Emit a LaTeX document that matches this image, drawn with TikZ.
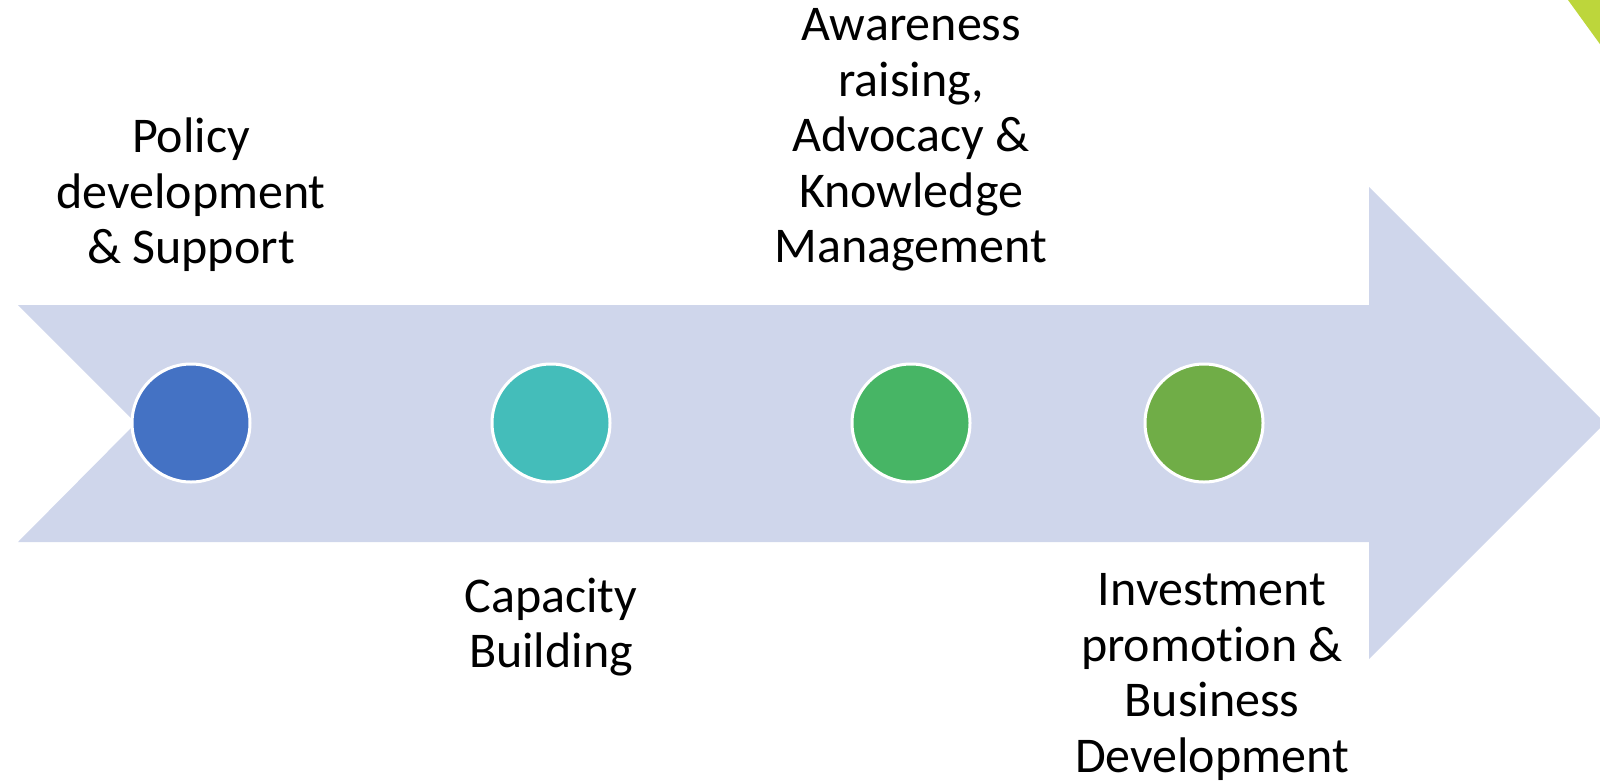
\documentclass[tikz,border=0pt]{standalone}
\usepackage{fontspec}
\setmainfont{Carlito}[Ligatures=CommonOff]
\usepackage{tikz}
\definecolor{arrowfill}{HTML}{CFD6EB}
\definecolor{cblue}{HTML}{4472C4}
\definecolor{cteal}{HTML}{44BDBA}
\definecolor{cgreen}{HTML}{47B565}
\definecolor{colive}{HTML}{70AD47}
\definecolor{lime}{HTML}{BDD63B}

\begin{document}
\begin{tikzpicture}[x=0.5pt,y=-0.5pt,
        dot/.style={circle,draw=white,line width=1.5pt,minimum size=59pt,inner sep=0pt},
        label/.style={align=center,font=\fontsize{25}{27.75}\selectfont}]
        \useasboundingbox (0,0) rectangle (1600,782);
        \begin{scope}
        \clip (0,0) rectangle (1600,782);
        \fill[lime] (1568,0) -- (1610,0) -- (1610,58) -- cycle;
        \fill[arrowfill] (18,305) -- (1369,305) -- (1369,187) -- (1605,423)
                -- (1369,659) -- (1369,542) -- (18,542) -- (136,423) -- cycle;
        \end{scope}

        \node[dot, fill=cblue] (c1) at (191,423) {};
        \node[dot, fill=cteal] (c2) at (551,423) {};
        \node[dot, fill=cgreen] (c3) at (911,423) {};
        \node[dot, fill=colive] (c4) at (1204,423) {};

        \node[label] (pol) at (191,195) {Policy\\development\\\& Support};
        \node[label] (awa) at (911,140) {Awareness\\raising,\\Advocacy \&\\Knowledge\\Management};
        \node[label] (cap) at (551,627) {Capacity\\Building};
        \node[label] (inv) at (1212,677) {Investment\\promotion \&\\Business\\Development};
      \end{tikzpicture}
\end{document}
